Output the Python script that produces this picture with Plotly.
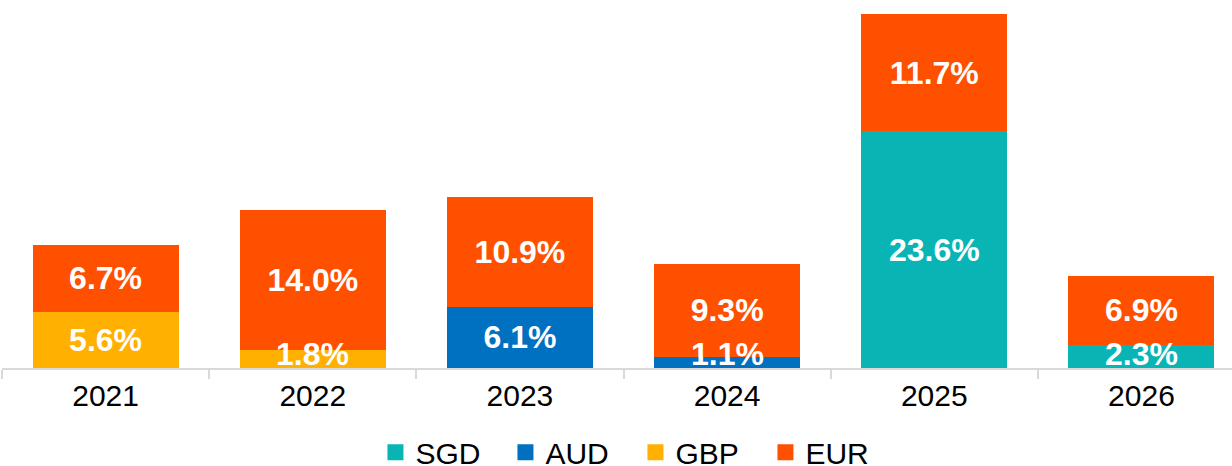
import plotly.graph_objects as go

years = ["2021", "2022", "2023", "2024", "2025", "2026"]
sgd = [None, None, None, None, 23.6, 2.3]
aud = [None, None, 6.1, 1.1, None, None]
gbp = [5.6, 1.8, None, None, None, None]
eur = [6.7, 14.0, 10.9, 9.3, 11.7, 6.9]

series = [
    ("SGD", sgd, "#08B5B4"),
    ("AUD", aud, "#0070C0"),
    ("GBP", gbp, "#FFB000"),
    ("EUR", eur, "#FF5000"),
]

FONT = "Liberation Sans, Arial, sans-serif"
LABEL_FONT = dict(family=FONT, size=32, color="white", weight="bold")
SMALL = 3.0        # segments thinner than this get a lifted label
MIN_LABEL_Y = 1.4  # lowest label centre (data units), like the source chart

fig = go.Figure()
base = [0.0] * len(years)
annotations = []
for name, vals, color in series:
    texts = []
    for i, v in enumerate(vals):
        if v is None:
            texts.append("")
            continue
        if v < SMALL:
            texts.append("")
            annotations.append(dict(
                x=i, y=max(base[i] + v / 2, MIN_LABEL_Y), xref="x", yref="y",
                text=f"{v:.1f}%", showarrow=False, font=LABEL_FONT,
            ))
        else:
            texts.append(f"{v:.1f}%")
        base[i] += v
    fig.add_trace(go.Bar(
        x=years, y=vals, name=name, marker_color=color, marker_line_width=0,
        text=texts, textposition="inside", insidetextanchor="middle", textangle=0,
        textfont=LABEL_FONT, showlegend=False, hoverinfo="skip",
    ))
for name, vals, color in series:
    fig.add_trace(go.Scatter(
        x=[None], y=[None], mode="markers", name=name,
        marker=dict(symbol="square", size=16, color=color),
    ))

fig.update_layout(
    barmode="stack",
    bargap=0.295,
    width=1232, height=466,
    margin=dict(l=2, r=0, t=10, b=98, autoexpand=False),
    paper_bgcolor="white", plot_bgcolor="white",
    uniformtext=dict(mode="show", minsize=32),
    font=dict(family=FONT, color="black"),
    annotations=annotations,
    legend=dict(
        orientation="h", traceorder="normal",
        x=0.515, xanchor="center", y=-0.235, yanchor="middle",
        font=dict(family=FONT, size=30, color="black"),
        entrywidth=85, entrywidthmode="pixels",
    ),
    xaxis=dict(
        type="category", range=[-0.5, 5.437], automargin=False,
        showline=True, linecolor="#d9d9d9", linewidth=2,
        ticks="outside", ticklen=9, tickwidth=2, tickcolor="#d9d9d9",
        tickson="boundaries", showgrid=False,
        tickfont=dict(family=FONT, size=30, color="black"),
    ),
    yaxis=dict(range=[0, 35.69], visible=False, showgrid=False, automargin=False),
)

fig.write_html("out.html", config={"displayModeBar": False},
               post_script="document.body.style.margin='0px';")
